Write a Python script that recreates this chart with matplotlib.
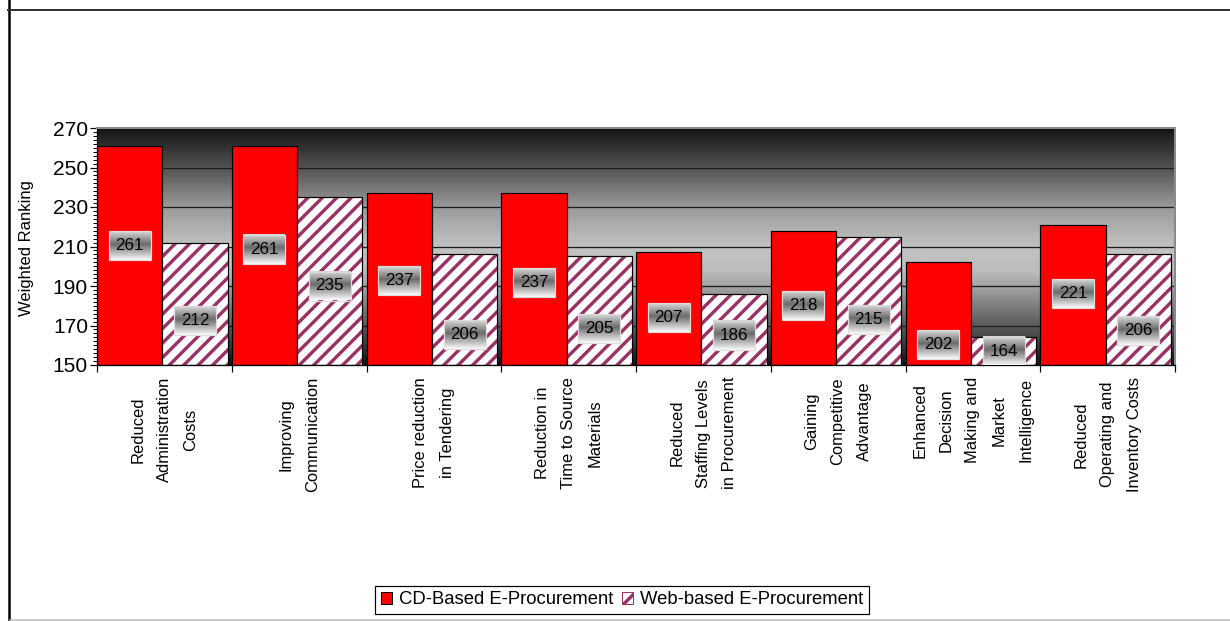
import numpy as np
import matplotlib
matplotlib.use("Agg")
import matplotlib.pyplot as plt
from matplotlib.patches import Patch, Rectangle
from matplotlib.lines import Line2D

# -----------------------------
# Data
# -----------------------------
categories = [
    "Reduced\nAdministration\nCosts",
    "Improving\nCommunication",
    "Price reduction\nin Tendering",
    "Reduction in\nTime to Source\nMaterials",
    "Reduced\nStaffing Levels\nin Procurement",
    "Gaining\nCompetitive\nAdvantage",
    "Enhanced\nDecision\nMaking and\nMarket\nIntelligence",
    "Reduced\nOperating and\nInventory Costs",
]
cd_based = [261, 261, 237, 237, 207, 218, 202, 221]
web_based = [212, 235, 206, 205, 186, 215, 164, 206]
series_names = ["CD-Based E-Procurement", "Web-based E-Procurement"]

# where the value boxes sit (y in data units)
cd_label_y = [210.5, 208.5, 193, 192, 173.8, 180, 160.4, 186]
web_label_y = [172.5, 190, 165.2, 168.5, 164.7, 172.8, 157, 167.5]

y_ticks = [150, 170, 190, 210, 230, 250, 270]

# -----------------------------
# Style
# -----------------------------
DPI = 130
W, H = 1230, 621


def px(v):
    return v * 72 / DPI


RED = "#ff0000"
PLUM = "#993366"
plt.rcParams["font.family"] = ["Liberation Sans", "DejaVu Sans"]
plt.rcParams["hatch.linewidth"] = px(3.4)

fig = plt.figure(figsize=(W / DPI, H / DPI), dpi=DPI)
ax = fig.add_axes([97 / W, 1 - 365 / H, (1175 - 97) / W, (365 - 128) / H])

n = len(categories)
x = np.arange(n)
ax.set_xlim(-0.5, n - 0.5)
ax.set_ylim(150, 270)

# gradient background: dark top, light middle, dark bottom
stops = [0.0, 0.17, 0.33, 0.5, 0.6, 0.67, 0.83, 1.0]
greys = [0.08, 0.33, 0.6, 0.76, 0.74, 0.64, 0.36, 0.08]
grad = np.interp(np.linspace(0, 1, 300), stops, greys).reshape(-1, 1)
ax.imshow(grad, extent=[-0.5, n - 0.5, 150, 270], aspect="auto",
          cmap="gray", vmin=0, vmax=1, zorder=0, origin="upper")

for g in y_ticks[1:-1]:
    ax.axhline(g, color="#1e1e1e", lw=px(1.3), zorder=1)

# bars
bw = 0.485
ax.bar(x - 0.5, [v - 150 for v in cd_based], width=bw, bottom=150, align="edge",
       color=RED, edgecolor="black", lw=px(1.2), zorder=2)
ax.bar(x - 0.5 + bw, [v - 150 for v in web_based], width=bw, bottom=150,
       align="edge", color="white", edgecolor=PLUM, hatch="///", lw=0, zorder=2)
ax.bar(x - 0.5 + bw, [v - 150 for v in web_based], width=bw, bottom=150,
       align="edge", fill=False, edgecolor="black", lw=px(1.2), zorder=3)

# value boxes with a metallic gradient
box_w = 42 / ((1175 - 97) / n)
box_h = 29 / ((365 - 128) / 120)
box_grad = np.interp(np.linspace(0, 1, 60), [0, 0.45, 1],
                     [0.85, 0.42, 0.98]).reshape(-1, 1)


def value_box(cx, cy, val):
    ax.imshow(box_grad, extent=[cx - box_w / 2, cx + box_w / 2,
                                cy - box_h / 2, cy + box_h / 2],
              aspect="auto", cmap="gray", vmin=0, vmax=1, zorder=5,
              origin="upper")
    ax.add_patch(Rectangle((cx - box_w / 2, cy - box_h / 2), box_w, box_h,
                           fill=False, edgecolor="#dddddd", lw=px(1.2),
                           zorder=6))
    ax.text(cx, cy, str(val), ha="center", va="center",
            fontsize=px(17), color="black", zorder=7)


for i in range(n):
    value_box(i - 0.5 + bw / 2, cd_label_y[i], cd_based[i])
    value_box(i - 0.5 + bw * 1.5, web_label_y[i], web_based[i])

ax.set_xlim(-0.5, n - 0.5)
ax.set_ylim(150, 270)

# axes frame
for side in ["left", "bottom"]:
    ax.spines[side].set_color("black")
    ax.spines[side].set_linewidth(px(1.3))
for side in ["top", "right"]:
    ax.spines[side].set_color("#8a8a8a")
    ax.spines[side].set_linewidth(px(2))
ax.spines["top"].set_zorder(8)

ax.set_yticks(y_ticks)
ax.set_yticks(np.arange(150, 271, 2), minor=True)
ax.tick_params(axis="y", which="major", length=px(7), width=px(1.2),
               pad=px(2), labelsize=px(21))
ax.tick_params(axis="y", which="minor", length=px(4), width=px(1))

ax.set_xticks(np.arange(-0.5, n, 1.0))
ax.set_xticklabels([])
ax.set_xticks(x, minor=True)
ax.set_xticklabels(categories, minor=True, rotation=90, ha="center", va="top",
                   multialignment="center", linespacing=1.95)
ax.tick_params(axis="x", which="major", length=px(7), width=px(1.2))
ax.tick_params(axis="x", which="minor", length=0, pad=px(12),
               labelsize=px(16.5))

fig.text(27 / W, 1 - 248 / H, "Weighted Ranking", rotation=90, ha="center",
         va="center", fontsize=px(16.5))

# legend
handles = [
    Patch(facecolor=RED, edgecolor="black", lw=px(1)),
    Patch(facecolor="white", edgecolor=PLUM, hatch="///", lw=px(1)),
]
leg = fig.legend(handles, series_names, loc="center", ncol=2,
                 bbox_to_anchor=(622 / W, 1 - 600 / H), fontsize=px(18.5),
                 frameon=True, fancybox=False, framealpha=1,
                 edgecolor="black", handlelength=0.6, handleheight=0.6,
                 handletextpad=0.35, columnspacing=0.5, borderpad=0.3,
                 borderaxespad=0)
leg.get_frame().set_linewidth(px(1.2))

# outer chart border
fig.add_artist(Line2D([8.5 / W, 8.5 / W], [0, 1], color="black", lw=px(2.5)))
fig.add_artist(Line2D([8 / W, 1], [1 - 10 / H, 1 - 10 / H], color="#333333",
                      lw=px(2)))
fig.add_artist(Line2D([10 / W, 1], [1 - 620 / H, 1 - 620 / H],
                      color="#bbbbbb", lw=px(1.5)))

fig.savefig("out.png", dpi=DPI)
